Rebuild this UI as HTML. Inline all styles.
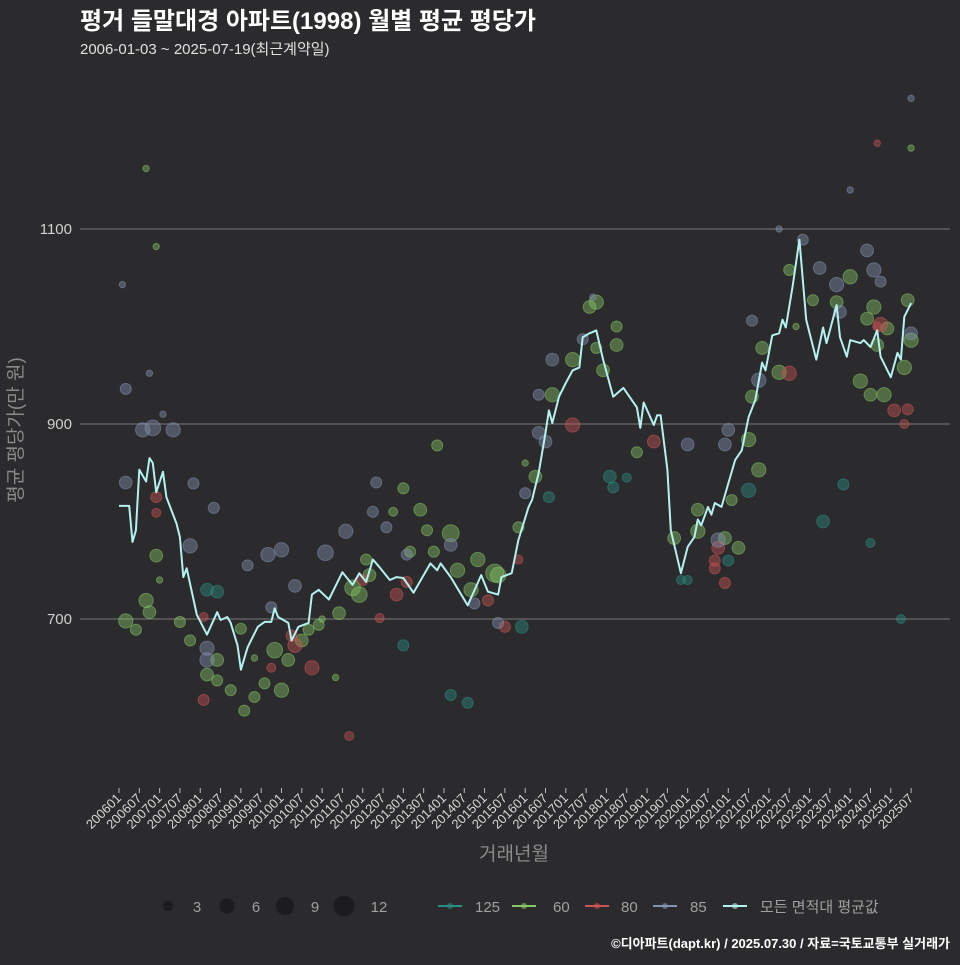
<!DOCTYPE html>
<html><head><meta charset="utf-8">
<style>
html,body{margin:0;padding:0;background:#2b2a2c;}
body{width:960px;height:960px;overflow:hidden;font-family:"Liberation Sans","Noto Sans CJK KR",sans-serif;}
svg text{font-family:"Liberation Sans","Noto Sans CJK KR",sans-serif;}
</style></head>
<body>
<svg id="chart" width="960" height="960" viewBox="0 0 960 960" xmlns="http://www.w3.org/2000/svg">
<rect width="960" height="960" fill="#2b2a2c"/>
<text x="80" y="29" fill="#ffffff" font-size="24" font-weight="bold">평거 들말대경 아파트(1998) 월별 평균 평당가</text>
<text x="80" y="54" fill="#e0e0e0" font-size="15">2006-01-03 ~ 2025-07-19(최근계약일)</text>
<g id="grid"></g>
<g id="bubbles"></g>
<g id="line"></g>
<g id="xaxis"></g>
<text transform="translate(22,430) rotate(-90)" text-anchor="middle" fill="#8a8a8a" font-size="19">평균 평당가(만 원)</text>
<text x="514" y="860" text-anchor="middle" fill="#8a8a8a" font-size="19">거래년월</text>
<g id="legend"></g>
<text x="950" y="948" text-anchor="end" fill="#ffffff" font-size="13" font-weight="bold">©디아파트(dapt.kr) / 2025.07.30 / 자료=국토교통부 실거래가</text>
</svg>
<script>
const yTicks=[700,900,1100];
const xTickLabels=[];
for(let y=2006;y<=2025;y++){xTickLabels.push(y+"01");xTickLabels.push(y+"07");}
const seriesNames=["125","60","80","85"];
const seriesColors=["#2a8f86","#86c866","#cc5555","#8393b3"];
const sizeLegend=[3,6,9,12];
// average line: months since 2006-01, values
const lineMonths=[0,3,4,5,6,8,9,10,11,13,14,17,18,19,20,23,26,29,30,32,33,35,36,38,41,43,45,46,47,50,51,53,56,57,59,62,66,69,71,73,75,77,80,82,84,87,92,94,95,98,103,107,109,112,113,116,118,121,122,124,126,127,128,130,132,134,136,137,139,141,143,146,149,153,154,155,158,159,160,162,163,166,168,170,171,172,174,175,176,178,180,182,184,186,188,190,191,193,195,196,197,199,201,203,206,208,209,212,213,215,216,219,220,222,224,225,228,230,231,232,234];
const lineValues=[816,816,779,791,853,841,865,860,830,851,825,798,784,743,752,704,684,707,699,702,696,673,648,671,692,697,697,711,702,696,678,692,696,725,730,720,748,735,747,738,761,753,740,743,742,727,757,750,757,743,714,745,728,725,743,747,781,815,822,850,891,914,901,928,942,955,958,989,993,996,966,928,937,917,896,922,899,909,909,853,791,747,774,784,802,796,815,807,819,815,839,863,873,907,925,963,955,991,993,1007,999,1041,1089,1007,966,999,983,1022,989,969,986,983,986,979,996,969,948,973,966,1010,1024];
// bubbles per series: month index, value, deal count
const s125Months=[26,29,98,103,119,84,127,145,146,186,180,208,214,166,168,150,222,231];
const s125Values=[730,728,622,614,692,673,825,846,835,832,760,800,838,740,740,845,778,700];
const s125Counts=[4,4,3,3,4,3,3,4,3,5,3,4,3,2,2,2,2,2];
const s60Months=[8,11,11,8,9,2,5,18,21,26,29,29,33,36,37,40,43,48,46,50,54,56,59,65,69,71,74,73,81,84,86,89,91,93,98,100,94,104,106,111,112,118,123,128,134,139,141,147,147,141,143,153,164,171,171,179,183,181,186,187,189,190,195,198,205,212,216,223,221,219,222,224,226,227,232,234,233,12,40,60,64,120,200,234];
const s60Values=[1162,1082,765,719,707,698,689,697,678,643,658,637,627,690,606,620,634,627,668,658,678,689,694,706,732,725,745,761,810,834,769,812,791,769,788,750,878,730,761,747,745,794,846,930,966,1020,978,981,1000,1025,955,871,783,790,812,783,773,822,884,928,853,978,953,1058,1027,1025,1051,1020,1008,944,930,981,930,998,958,986,1027,740,660,700,640,860,1000,1183];
const s60Counts=[1,1,4,5,4,5,3,3,3,4,4,3,3,3,3,3,3,5,6,4,4,3,3,4,6,6,4,3,2,3,3,4,3,3,7,5,3,5,5,8,6,3,4,5,5,4,3,4,3,5,4,3,4,5,4,4,4,3,5,4,5,4,5,3,3,4,5,5,4,5,4,4,5,4,5,5,4,1,1,1,1,1,1,1];
const s80Months=[11,11,25,25,52,57,51,72,82,85,77,109,114,118,134,158,177,176,179,198,225,229,45,68,176,224,232,233,224];
const s80Values=[825,809,702,617,673,650,683,740,725,738,701,719,692,761,899,882,773,752,737,952,1002,914,650,580,760,1000,900,915,1188];
const s80Counts=[3,2,2,3,5,5,3,3,4,3,2,3,3,2,5,4,4,3,3,5,5,4,2,2,3,2,2,3,1];
const s85Months=[2,2,9,7,10,16,21,28,22,26,26,44,48,38,45,52,61,67,75,76,79,98,85,105,112,120,124,126,128,124,137,177,180,189,187,202,207,212,213,221,223,225,234,168,179,1,13,140,195,216,234];
const s85Values=[840,936,952,894,896,894,775,814,839,670,658,766,771,755,712,734,768,790,810,840,794,776,766,716,696,829,891,882,966,930,987,781,894,945,1006,1089,1060,1043,1015,1078,1058,1046,993,879,879,1043,910,1030,1100,1140,1234];
const s85Counts=[4,3,1,5,6,5,5,3,3,5,5,5,5,3,3,4,6,5,3,3,3,4,3,3,3,3,4,4,4,3,3,5,4,5,3,3,4,5,4,4,5,3,4,4,4,1,1,1,1,1,1];

const NS="http://www.w3.org/2000/svg";
const X0=119, DX=3.385, YREF=229, VREF=1100, PXU=0.975;
function xScale(m){return X0+m*DX;}
function yScale(v){return YREF+(VREF-v)*PXU;}
function rScale(n){return 3.2*Math.sqrt(n);}
function mk(tag,attrs,parent){const e=document.createElementNS(NS,tag);for(const k in attrs)e.setAttribute(k,attrs[k]);parent.appendChild(e);return e;}

const grid=document.getElementById('grid');
yTicks.forEach(v=>{
  const l=mk('line',{x1:80,x2:950,y1:yScale(v),y2:yScale(v),stroke:'#6a6a6a','stroke-width':1.2},grid);
  
  
  const t=mk('text',{x:72,y:yScale(v)+5,'text-anchor':'end',fill:'#d0d0d0','font-size':15},grid);
  t.textContent=v;
  
  
});

const xa=document.getElementById('xaxis');
xTickLabels.forEach(lab=>{
  const y=+lab.slice(0,4), m=+lab.slice(4);
  const idx=(y-2006)*12+(m-1);
  if(idx>234) return;
  const x=xScale(idx);
  const tk=mk('line',{x1:x,x2:x,y1:788,y2:793,stroke:'#bbbbbb','stroke-width':1},xa);
  
  
  const t=mk('text',{transform:`translate(${x+3},799) rotate(-45)`,'text-anchor':'end',fill:'#d8d8d8','font-size':13},xa);
  t.textContent=lab;
  
  
});

const bg=document.getElementById('bubbles');
const allSeries=[[s125Months,s125Values,s125Counts],[s60Months,s60Values,s60Counts],[s80Months,s80Values,s80Counts],[s85Months,s85Values,s85Counts]];
allSeries.forEach((s,si)=>{
  for(let i=0;i<s[0].length;i++){
    const c=mk('circle',{cx:xScale(s[0][i]),cy:yScale(s[1][i]),r:rScale(s[2][i]),fill:seriesColors[si],'fill-opacity':0.42,stroke:seriesColors[si],'stroke-opacity':0.5,'stroke-width':1},bg);
    
    
  }
});

const lg=document.getElementById('line');
const pts=lineMonths.map((m,i)=>xScale(m).toFixed(1)+','+yScale(lineValues[i]).toFixed(1)).join(' ');
const pl=mk('polyline',{points:pts,fill:'none',stroke:'#b4f2f0','stroke-width':2,'stroke-linejoin':'round'},lg);



const leg=document.getElementById('legend');
const sx=[168,227,285,344], tx=[197,256,315,379];
sizeLegend.forEach((n,i)=>{
  const c=mk('circle',{cx:sx[i],cy:906,r:rScale(n)*0.95,fill:'#1c1c1e'},leg);
  
  
  const t=mk('text',{x:tx[i],y:912,'text-anchor':'middle',fill:'#a0a0a0','font-size':15},leg);
  t.textContent=n;
  
  
});
const keyX=[450,524,597,665,735], keyTx=[475,553,621,690,760];
const keyLabels=seriesNames.concat(["모든 면적대 평균값"]);
const keyColors=seriesColors.concat(["#b4f2f0"]);
keyLabels.forEach((lab,i)=>{
  const l=mk('line',{x1:keyX[i]-12,x2:keyX[i]+12,y1:906,y2:906,stroke:keyColors[i],'stroke-width':2},leg);
  
  
  const c=mk('circle',{cx:keyX[i],cy:906,r:3,fill:keyColors[i],'fill-opacity':0.6},leg);
  
  
  const t=mk('text',{x:keyTx[i],y:912,fill:'#a0a0a0','font-size':15},leg);
  t.textContent=lab;
  
  
});
</script>
</body></html>
